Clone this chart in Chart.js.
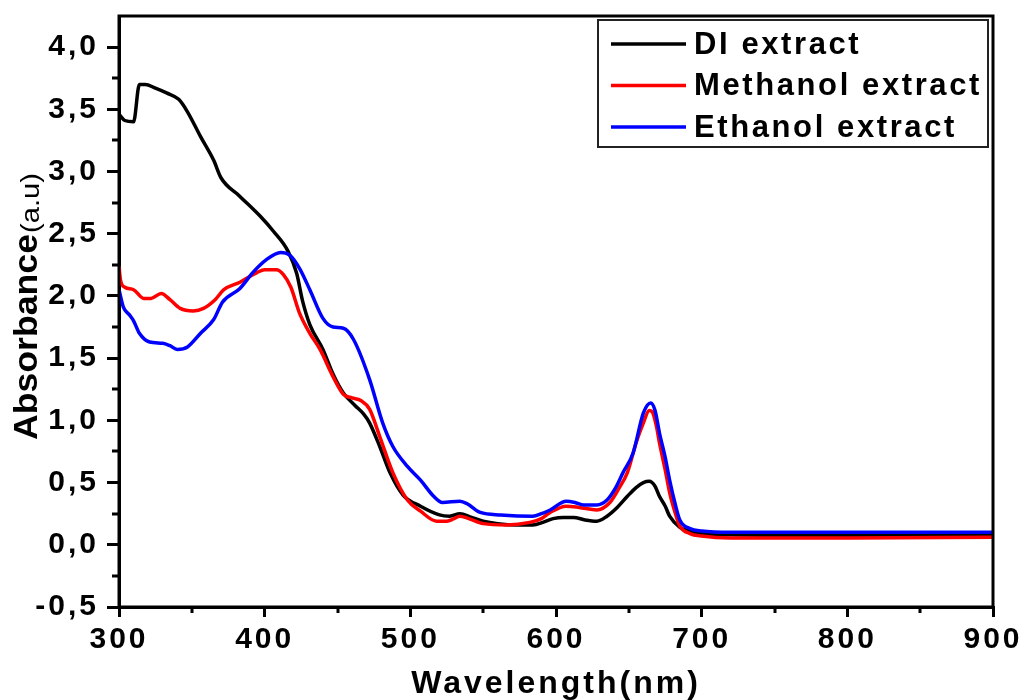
<!DOCTYPE html>
<html lang="en">
<head>
    <meta charset="UTF-8">
    <title>Absorbance spectra</title>
    <style>
        body {
            margin: 0;
            padding: 0;
            background-color: #ffffff;
        }

        .chart-container {
            width: 1025px;
            height: 700px;
        }
    </style>
</head>
<body>
    <div class="chart-container">
        <canvas id="absChart"></canvas>
    </div>

    <script src="https://cdn.jsdelivr.net/npm/chart.js"></script>
    <script>
        // series labels
        const seriesNames = ['DI extract', 'Methanol extract', 'Ethanol extract'];

        // DI extract (black)
        const diWave = [300, 304, 310, 314, 318, 325, 333, 341, 347, 356, 365, 370, 383, 397, 406, 416, 422, 426, 431, 440,
            447, 454, 462, 468, 472, 479, 486, 495, 507, 520, 527, 534, 542, 550, 560, 573, 584, 591, 598, 605,
            612, 620, 628, 635, 642, 649, 655, 660, 664, 668, 671, 675, 678, 685, 692, 700, 720, 800, 880, 900];
        const diAbs = [3.46, 3.41, 3.40, 3.70, 3.70, 3.67, 3.63, 3.58, 3.48, 3.28, 3.09, 2.95, 2.80, 2.64, 2.52, 2.36, 2.18, 1.96, 1.77, 1.57,
            1.37, 1.22, 1.12, 1.05, 0.98, 0.79, 0.58, 0.40, 0.31, 0.24, 0.23, 0.25, 0.22, 0.19, 0.17, 0.16, 0.16, 0.18, 0.21, 0.22,
            0.22, 0.20, 0.19, 0.23, 0.30, 0.39, 0.46, 0.50, 0.51, 0.47, 0.39, 0.31, 0.23, 0.14, 0.11, 0.09, 0.08, 0.075, 0.075, 0.075];

        // Methanol extract (red)
        const meWave = [300, 301, 304, 310, 317, 322, 329, 335, 342, 351, 358, 366, 372, 383, 395, 400, 408, 413, 418, 424,
            431, 438, 447, 454, 460, 466, 472, 479, 488, 498, 507, 518, 525, 530, 534, 540, 550, 566, 582, 590,
            596, 607, 616, 628, 637, 643, 649, 655, 660, 664, 666, 669, 671, 675, 678, 682, 685, 692, 700, 720, 800, 900];
        const meAbs = [2.24, 2.13, 2.07, 2.05, 1.98, 1.98, 2.02, 1.97, 1.90, 1.88, 1.90, 1.97, 2.05, 2.11, 2.19, 2.21, 2.21, 2.17, 2.07, 1.86,
            1.70, 1.57, 1.35, 1.21, 1.18, 1.16, 1.09, 0.87, 0.58, 0.36, 0.27, 0.19, 0.19, 0.21, 0.23, 0.21, 0.17, 0.16, 0.18, 0.21,
            0.26, 0.31, 0.30, 0.28, 0.34, 0.45, 0.58, 0.82, 0.98, 1.08, 1.07, 0.95, 0.82, 0.60, 0.42, 0.25, 0.15, 0.09, 0.07, 0.055, 0.055, 0.06];

        // Ethanol extract (blue)
        const etWave = [300, 303, 307, 310, 314, 321, 330, 335, 340, 347, 356, 365, 371, 383, 392, 401, 411, 417, 424, 431,
            440, 447, 454, 461, 472, 481, 488, 498, 507, 516, 522, 534, 539, 548, 562, 584, 590, 596, 607, 613,
            619, 628, 635, 641, 646, 653, 660, 665, 668, 671, 675, 678, 682, 685, 692, 700, 720, 800, 900];
        const etAbs = [2.05, 1.91, 1.85, 1.80, 1.70, 1.63, 1.62, 1.60, 1.57, 1.59, 1.70, 1.81, 1.95, 2.06, 2.19, 2.29, 2.35, 2.33, 2.22, 2.05,
            1.82, 1.75, 1.74, 1.65, 1.33, 0.98, 0.79, 0.63, 0.52, 0.39, 0.34, 0.35, 0.33, 0.26, 0.24, 0.23, 0.25, 0.28, 0.35, 0.34,
            0.32, 0.32, 0.36, 0.46, 0.58, 0.74, 1.06, 1.14, 1.08, 0.90, 0.70, 0.52, 0.32, 0.20, 0.13, 0.11, 0.10, 0.10, 0.10];

        // axis ticks
        const xTicks = [300, 400, 500, 600, 700, 800, 900];
        const xMinorTicks = [350, 450, 550, 650, 750, 850];
        const yTicks = [-0.5, 0, 0.5, 1.0, 1.5, 2.0, 2.5, 3.0, 3.5, 4.0];
        const yMinorTicks = [-0.25, 0.25, 0.75, 1.25, 1.75, 2.25, 2.75, 3.25, 3.75];

        function toPoints(xs, ys) {
            return xs.map((x, i) => ({ x: x, y: ys[i] }));
        }

        const fontFamily = '"Liberation Sans", Arial, sans-serif';

        // minor ticks, frame, legend and y title
        const decorPlugin = {
            id: 'decor',
            beforeDraw(chart) {
                chart.ctx.letterSpacing = '3px';
            },
            afterDraw(chart) {
                const ctx = chart.ctx;
                const area = chart.chartArea;
                const xs = chart.scales.x;
                const ys = chart.scales.y;
                ctx.save();
                ctx.letterSpacing = '0px';
                ctx.strokeStyle = '#000';
                ctx.lineWidth = 3;
                ctx.beginPath();
                yMinorTicks.forEach(v => {
                    const py = Math.round(ys.getPixelForValue(v));
                    ctx.moveTo(area.left - 7, py);
                    ctx.lineTo(area.left, py);
                });
                xMinorTicks.forEach(v => {
                    const px = Math.round(xs.getPixelForValue(v));
                    ctx.moveTo(px, area.bottom);
                    ctx.lineTo(px, area.bottom + 6);
                });
                ctx.stroke();

                // frame
                ctx.strokeRect(area.left, area.top, area.right - area.left, area.bottom - area.top);

                // legend
                ctx.lineWidth = 2;
                ctx.strokeStyle = '#222';
                ctx.fillStyle = '#fff';
                ctx.fillRect(598, 20, 390, 127);
                ctx.strokeRect(598, 20, 390, 127);
                ctx.font = 'bold 31px ' + fontFamily;
                ctx.letterSpacing = '2.6px';
                ctx.textBaseline = 'middle';
                ctx.textAlign = 'left';
                chart.data.datasets.forEach((ds, i) => {
                    const ly = 44 + i * 41.5;
                    ctx.strokeStyle = ds.borderColor;
                    ctx.lineWidth = 3.5;
                    ctx.beginPath();
                    ctx.moveTo(611, ly);
                    ctx.lineTo(686, ly);
                    ctx.stroke();
                    ctx.fillStyle = '#000';
                    ctx.fillText(ds.label, 694, ly + 1);
                });

                // y title: "Absorbance" + smaller "(a.u)"
                ctx.letterSpacing = '0px';
                ctx.fillStyle = '#000';
                ctx.textBaseline = 'alphabetic';
                ctx.save();
                ctx.translate(37, 440);
                ctx.rotate(-Math.PI / 2);
                ctx.scale(1.08, 1);
                ctx.font = 'bold 33px ' + fontFamily;
                ctx.fillText('Absorbance', 0, 0);
                ctx.restore();
                ctx.save();
                ctx.translate(39, 233);
                ctx.rotate(-Math.PI / 2);
                ctx.scale(1.12, 1);
                ctx.font = '26px ' + fontFamily;
                ctx.fillText('(a.u)', 0, 0);
                ctx.restore();
                ctx.restore();
            }
        };

        const config = {
            type: 'line',
            data: {
                datasets: [
                    {
                        label: seriesNames[0],
                        data: toPoints(diWave, diAbs),
                        borderColor: '#000000',
                        borderWidth: 3.5,
                        pointRadius: 0,
                        cubicInterpolationMode: 'monotone',
                        order: 3
                    },
                    {
                        label: seriesNames[1],
                        data: toPoints(meWave, meAbs),
                        borderColor: '#ff0000',
                        borderWidth: 3.5,
                        pointRadius: 0,
                        cubicInterpolationMode: 'monotone',
                        order: 2
                    },
                    {
                        label: seriesNames[2],
                        data: toPoints(etWave, etAbs),
                        borderColor: '#0000ff',
                        borderWidth: 3.5,
                        pointRadius: 0,
                        cubicInterpolationMode: 'monotone',
                        order: 1
                    }
                ]
            },
            options: {
                responsive: false,
                animation: false,
                layout: {
                    padding: { left: 0, right: 32, top: 16, bottom: 0 }
                },
                plugins: {
                    legend: { display: false },
                    tooltip: { enabled: false }
                },
                scales: {
                    x: {
                        type: 'linear',
                        min: 300,
                        max: 900,
                        afterBuildTicks: (s) => { s.ticks = xTicks.map(v => ({ value: v })); },
                        afterFit: (s) => {
                            s.height = 93;
                            s.paddingLeft = 0;
                            s.paddingRight = 0;
                        },
                        border: { display: true, color: '#000', width: 3 },
                        grid: { drawOnChartArea: false, color: '#000', lineWidth: 3, tickLength: 10 },
                        ticks: {
                            color: '#000',
                            padding: 5,
                            maxRotation: 0,
                            font: { family: fontFamily, size: 30, weight: 'bold' }
                        },
                        title: {
                            display: true,
                            text: 'Wavelength(nm)',
                            color: '#000',
                            padding: { top: 0, bottom: 1 },
                            font: { family: fontFamily, size: 32, weight: 'bold', lineHeight: 0.9 }
                        }
                    },
                    y: {
                        type: 'linear',
                        min: -0.5,
                        max: 4.25,
                        afterBuildTicks: (s) => { s.ticks = yTicks.map(v => ({ value: v })); },
                        afterFit: (s) => {
                            s.width = 119;
                            s.paddingTop = 0;
                            s.paddingBottom = 0;
                        },
                        border: { display: true, color: '#000', width: 3 },
                        grid: { drawOnChartArea: false, color: '#000', lineWidth: 3, tickLength: 12 },
                        ticks: {
                            color: '#000',
                            padding: 8,
                            font: { family: fontFamily, size: 30, weight: 'bold' },
                            callback: (v) => Number(v).toFixed(1).replace('.', ',')
                        }
                    }
                }
            },
            plugins: [decorPlugin]
        };

        window.onload = function() {
            const canvas = document.getElementById('absChart');
            canvas.width = 1025;
            canvas.height = 700;
            new Chart(canvas.getContext('2d'), config);
        };
    </script>
</body>
</html>
